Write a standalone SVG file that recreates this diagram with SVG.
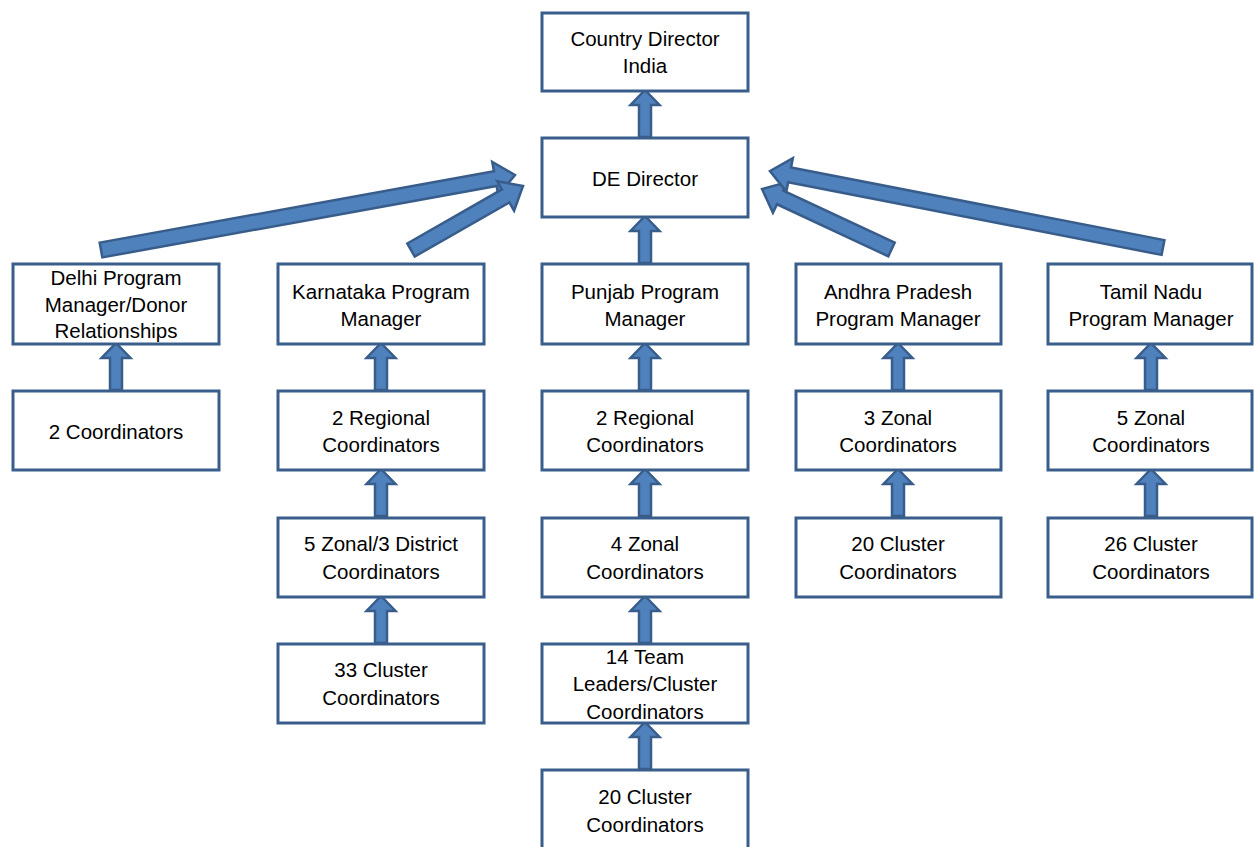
<svg xmlns="http://www.w3.org/2000/svg" xmlns:xlink="http://www.w3.org/1999/xlink" width="1254" height="847" viewBox="0 0 1254 847">
<style>
.box{fill:#ffffff;stroke:#3a5e8c;stroke-width:3}
.arr{fill:#4f81bd;stroke:#385d8a;stroke-width:2.5;stroke-linejoin:miter}
text{font-family:"Liberation Sans",Arial,sans-serif;font-size:20.5px;fill:#000;text-anchor:middle}
</style>
<defs>
<path id="va" d="M0,0 L14.5,15 L6,15 L6,47 L-6,47 L-6,15 L-14.5,15 Z"/>
</defs>
<rect width="1254" height="847" fill="#ffffff"/>
<g id="connectors">
<g class="arr">
<use xlink:href="#va" transform="translate(645,90)"/>
<use xlink:href="#va" transform="translate(645,216)"/>
<use xlink:href="#va" transform="translate(116,343)"/>
<use xlink:href="#va" transform="translate(381,343)"/>
<use xlink:href="#va" transform="translate(381,469)"/>
<use xlink:href="#va" transform="translate(381,596)"/>
<use xlink:href="#va" transform="translate(645,343)"/>
<use xlink:href="#va" transform="translate(645,469)"/>
<use xlink:href="#va" transform="translate(645,596)"/>
<use xlink:href="#va" transform="translate(645,722)"/>
<use xlink:href="#va" transform="translate(898,343)"/>
<use xlink:href="#va" transform="translate(898,469)"/>
<use xlink:href="#va" transform="translate(1151,343)"/>
<use xlink:href="#va" transform="translate(1151,469)"/>
<path transform="translate(101,250) rotate(-10.27)" d="M0,-7.5 L400.7,-7.5 L400.7,-17 L420.7,0 L400.7,17 L400.7,7.5 L0,7.5 Z"/>
<path transform="translate(411,250) rotate(-29.74)" d="M0,-7.5 L109,-7.5 L109,-17 L129,0 L109,17 L109,7.5 L0,7.5 Z"/>
<path transform="translate(891.5,249.5) rotate(-154.96)" d="M0,-7.5 L122.9,-7.5 L122.9,-17 L142.9,0 L122.9,17 L122.9,7.5 L0,7.5 Z"/>
<path transform="translate(1163,247.5) rotate(-168.99)" d="M0,-7.5 L380.4,-7.5 L380.4,-17 L400.4,0 L380.4,17 L380.4,7.5 L0,7.5 Z"/>
</g>
</g>
<g id="n-country"><rect class="box" x="542" y="13" width="206" height="78"/><text x="645" y="46">Country Director</text><text x="645" y="73">India</text></g>
<g id="n-de"><rect class="box" x="542" y="138" width="206" height="79"/><text x="645" y="186">DE Director</text></g>
<g id="n-delhi"><rect class="box" x="13" y="264" width="206" height="80"/><text x="116" y="285">Delhi Program</text><text x="116" y="312">Manager/Donor</text><text x="116" y="338">Relationships</text></g>
<g id="n-karn"><rect class="box" x="278" y="264" width="206" height="80"/><text x="381" y="299">Karnataka Program</text><text x="381" y="326">Manager</text></g>
<g id="n-punjab"><rect class="box" x="542" y="264" width="206" height="80"/><text x="645" y="299">Punjab Program</text><text x="645" y="326">Manager</text></g>
<g id="n-ap"><rect class="box" x="796" y="264" width="205" height="80"/><text x="898" y="299">Andhra Pradesh</text><text x="898" y="326">Program Manager</text></g>
<g id="n-tn"><rect class="box" x="1048" y="264" width="204" height="80"/><text x="1151" y="299">Tamil Nadu</text><text x="1151" y="326">Program Manager</text></g>
<g id="n-delhi-c"><rect class="box" x="13" y="391" width="206" height="79"/><text x="116" y="439">2 Coordinators</text></g>
<g id="n-karn-r"><rect class="box" x="278" y="391" width="206" height="79"/><text x="381" y="425">2 Regional</text><text x="381" y="452">Coordinators</text></g>
<g id="n-punjab-r"><rect class="box" x="542" y="391" width="206" height="79"/><text x="645" y="425">2 Regional</text><text x="645" y="452">Coordinators</text></g>
<g id="n-ap-z"><rect class="box" x="796" y="391" width="205" height="79"/><text x="898" y="425">3 Zonal</text><text x="898" y="452">Coordinators</text></g>
<g id="n-tn-z"><rect class="box" x="1048" y="391" width="204" height="79"/><text x="1151" y="425">5 Zonal</text><text x="1151" y="452">Coordinators</text></g>
<g id="n-karn-z"><rect class="box" x="278" y="518" width="206" height="79"/><text x="381" y="551">5 Zonal/3 District</text><text x="381" y="579">Coordinators</text></g>
<g id="n-punjab-z"><rect class="box" x="542" y="518" width="206" height="79"/><text x="645" y="551">4 Zonal</text><text x="645" y="579">Coordinators</text></g>
<g id="n-ap-c"><rect class="box" x="796" y="518" width="205" height="79"/><text x="898" y="551">20 Cluster</text><text x="898" y="579">Coordinators</text></g>
<g id="n-tn-c"><rect class="box" x="1048" y="518" width="204" height="79"/><text x="1151" y="551">26 Cluster</text><text x="1151" y="579">Coordinators</text></g>
<g id="n-karn-c"><rect class="box" x="278" y="644" width="206" height="79"/><text x="381" y="677">33 Cluster</text><text x="381" y="705">Coordinators</text></g>
<g id="n-punjab-t"><rect class="box" x="542" y="644" width="206" height="79"/><text x="645" y="664">14 Team</text><text x="645" y="691">Leaders/Cluster</text><text x="645" y="719">Coordinators</text></g>
<g id="n-punjab-c"><rect class="box" x="542" y="770" width="206" height="80"/><text x="645" y="804">20 Cluster</text><text x="645" y="832">Coordinators</text></g>
</svg>
